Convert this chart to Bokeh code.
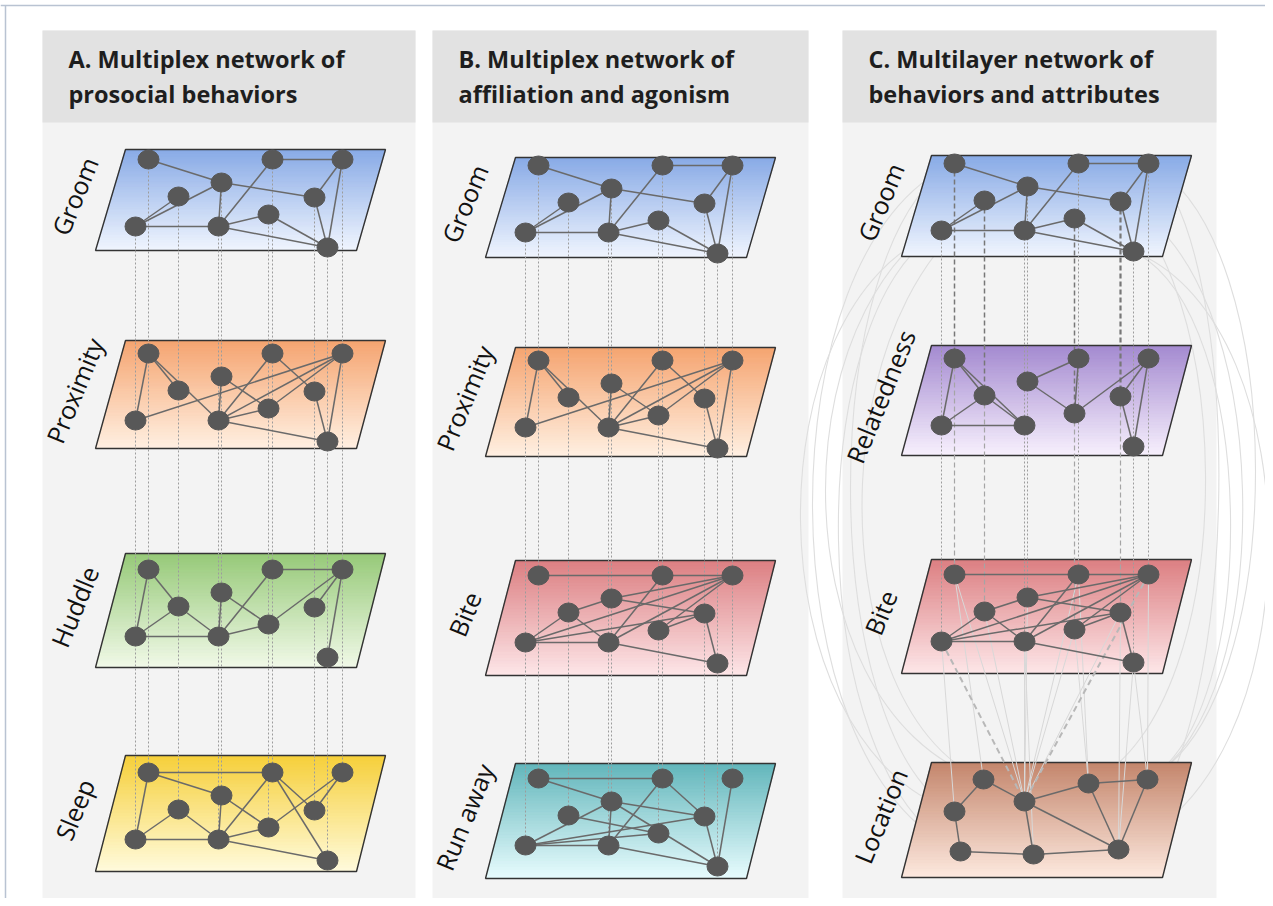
import numpy as np
from bokeh.plotting import figure
from bokeh.models import Range1d
from bokeh.embed import file_html
from bokeh.resources import INLINE
from bokeh.core.properties import value

# ---------------- data ----------------
panel_titles = [["A. Multiplex network of", "prosocial behaviors"],
                ["B. Multiplex network of", "affiliation and agonism"],
                ["C. Multilayer network of", "behaviors and attributes"]]
layer_names = [["Groom", "Proximity", "Huddle", "Sleep"],
               ["Groom", "Proximity", "Bite", "Run away"],
               ["Groom", "Relatedness", "Bite", "Location"]]
panel_left = [42, 432, 842]
panel_right = [415, 808, 1216]
panel_shift = [0, 390, 806]

plane_top = [[149, 340, 553, 755], [157, 347, 560, 763], [155, 345, 559, 762]]
plane_bottom = [[250, 448, 667, 871], [257, 456, 675, 878], [256, 455, 673, 877]]
plane_x = [125, 385, 95, 356]  # top-left, top-right, bottom-left, bottom-right (panel A)
layer_row_y = [[159, 353, 569, 772], [165, 360, 575, 778], [163, 358, 574, None]]

node_x = [148, 272, 342, 221, 178, 314, 135, 218, 268, 327]
node_dy = [0, 0, 0, 23, 37, 38, 67, 67, 55, 88]

edges = {
    "Groom": [(1, 4), (2, 3), (4, 8), (4, 6), (4, 7), (5, 7), (7, 8), (2, 8), (8, 9), (8, 10),
              (9, 10), (3, 6), (6, 10), (3, 10)],
    "Proximity": [(1, 7), (1, 5), (1, 8), (4, 8), (4, 9), (8, 2), (8, 3), (8, 9), (8, 10), (7, 3),
                  (9, 3), (2, 6), (6, 10), (3, 10)],
    "Huddle": [(1, 7), (1, 5), (5, 7), (5, 8), (7, 8), (4, 8), (4, 9), (2, 8), (2, 3), (8, 9),
               (9, 3), (3, 6), (3, 10)],
    "Sleep": [(1, 2), (1, 4), (1, 7), (7, 5), (7, 8), (5, 8), (4, 8), (4, 9), (8, 2), (8, 9),
              (8, 10), (2, 6), (2, 10), (9, 3), (3, 6)],
    "Bite": [(1, 2), (2, 3), (4, 5), (4, 6), (4, 3), (5, 7), (5, 8), (7, 8), (7, 3), (7, 6),
             (8, 2), (8, 3), (8, 10), (9, 3), (9, 6), (6, 10)],
    "Run away": [(1, 2), (1, 4), (2, 6), (2, 8), (4, 6), (4, 8), (4, 7), (4, 10), (5, 9), (7, 8),
                 (7, 6), (7, 9), (8, 10), (3, 10), (6, 10)],
    "Relatedness": [(1, 7), (1, 5), (1, 8), (5, 7), (5, 8), (7, 8), (4, 2), (4, 9), (2, 9),
                    (9, 3), (3, 6), (6, 10), (3, 10)],
}

loc_x = [983, 1024, 1088, 1147, 954, 960, 1033, 1118]
loc_y = [779, 801, 783, 779, 811, 851, 854, 849]
loc_edges = [(1, 2), (1, 5), (5, 6), (6, 7), (7, 8), (2, 7), (2, 3), (3, 4), (2, 8), (3, 8), (4, 8)]

c_dashed_nodes = [1, 5, 9, 6]
bite_loc_dashed = [(7, 2), (3, 2)]
bite_loc_faint = [(1, 2), (5, 2), (8, 2), (9, 2), (4, 2), (2, 3), (6, 8), (10, 8), (10, 4),
                  (3, 4), (7, 5), (1, 1), (8, 7), (9, 3), (2, 2), (6, 2)]
arcs_left = [(7, 5, 800), (1, 6, 812), (5, 1, 825), (7, 6, 838), (1, 5, 850), (4, 1, 862)]
arcs_right = [(10, 8, 1268), (3, 4, 1255), (6, 4, 1242), (10, 4, 1230), (3, 8, 1218), (2, 3, 1205)]

layer_colors = {
    "Groom": ("#88aae6", "#f0f5fe"),
    "Proximity": ("#f5a470", "#fff0e2"),
    "Huddle": ("#96c978", "#f1f9e8"),
    "Sleep": ("#f6cf3a", "#fffbdc"),
    "Bite": ("#dc7f82", "#fde6e8"),
    "Run away": ("#62b6bb", "#e8fcfe"),
    "Relatedness": ("#a48ad0", "#f7f0fd"),
    "Location": ("#c4866c", "#fde9df"),
}

# ---------------- helpers ----------------
def hex2rgb(h):
    h = h.lstrip("#")
    return np.array([int(h[i:i + 2], 16) for i in (0, 2, 4)], dtype=float)


def mix(c0, c1, t):
    a, b = hex2rgb(c0), hex2rgb(c1)
    c = a + (b - a) * t
    return "#%02x%02x%02x" % tuple(int(round(v)) for v in c)


W, H = 1265, 898
p = figure(width=W, height=H, x_range=Range1d(0, W), y_range=Range1d(H, 0),
           output_backend="svg", toolbar_location=None, min_border=0,
           x_axis_location=None, y_axis_location=None)
p.grid.visible = False
p.outline_line_color = None
p.background_fill_color = "white"
p.border_fill_color = "white"

# outer frame lines
p.segment(x0=[0, 5], y0=[5, 5], x1=[W, 5], y1=[5, H], line_color="#b9c3d2", line_width=1.5)

# panel backgrounds and headers
p.quad(left=panel_left, right=panel_right, top=[30] * 3, bottom=[902] * 3,
       fill_color="#f3f3f3", line_color=None)
p.quad(left=panel_left, right=panel_right, top=[30] * 3, bottom=[122] * 3,
       fill_color="#e2e2e2", line_color=None)
for i in range(3):
    tx = panel_left[i] + 26
    p.text(x=[tx, tx], y=[58, 93], text=panel_titles[i], text_font=value("Open Sans"),
           text_font_style="bold", text_font_size="23.5px", text_color="#1e1e1e",
           text_baseline="middle", text_align="left")

# big arcs in panel C (behind planes)
sh = panel_shift[2]
cg = layer_row_y[2][0]
for arcs in (arcs_left, arcs_right):
    x0s, y0s, x1s, y1s, cx0, cy0, cx1, cy1 = [], [], [], [], [], [], [], []
    for (g, l, reach) in arcs:
        xa, ya = node_x[g - 1] + sh, cg + node_dy[g - 1]
        xb, yb = loc_x[l - 1], loc_y[l - 1]
        cx = (reach - 0.125 * (xa + xb)) / 0.75
        x0s.append(xa); y0s.append(ya); x1s.append(xb); y1s.append(yb)
        cx0.append(cx); cx1.append(cx)
        cy0.append(ya + 0.12 * (yb - ya)); cy1.append(yb - 0.12 * (yb - ya))
    p.bezier(x0=x0s, y0=y0s, x1=x1s, y1=y1s, cx0=cx0, cy0=cy0, cx1=cx1, cy1=cy1,
             line_color="#dedede", line_width=1.1)

# planes
N = 40
for i in range(3):
    s = panel_shift[i]
    xtl, xtr, xbl, xbr = [v + s for v in plane_x]
    for k in range(4):
        name = layer_names[i][k]
        top, bot = plane_top[i][k], plane_bottom[i][k]
        c0, c1 = layer_colors[name]
        xs, ys, cols = [], [], []
        for j in range(N):
            t0, t1 = j / N, min(1.0, (j + 1) / N + 0.01)
            ya, yb = top + (bot - top) * t0, top + (bot - top) * t1
            xla, xlb = xtl + (xbl - xtl) * t0, xtl + (xbl - xtl) * t1
            xra, xrb = xtr + (xbr - xtr) * t0, xtr + (xbr - xtr) * t1
            xs.append([xla, xra, xrb, xlb])
            ys.append([ya, ya, yb, yb])
            cols.append(mix(c0, c1, (j + 0.5) / N))
        p.patches(xs=xs, ys=ys, fill_color=cols, line_color=cols, line_width=0.6)
        p.patch(x=[xtl, xtr, xbr, xbl], y=[top, top, bot, bot], fill_color=None,
                line_color="#333333", line_width=1.4)

# inter-layer lines
for i in range(3):
    s = panel_shift[i]
    for k in range(3):
        if layer_row_y[i][k + 1] is None:
            continue
        for n in range(10):
            x = node_x[n] + s
            y0 = layer_row_y[i][k] + node_dy[n]
            y1 = layer_row_y[i][k + 1] + node_dy[n]
            if i == 2 and (n + 1) in c_dashed_nodes:
                if k == 0:
                    wdt = 2.2 if (n + 1) == 6 else 1.5
                    col = "#777777"
                else:
                    wdt, col = 1.2, "#a5a5a5"
                p.segment(x0=[x], y0=[y0], x1=[x], y1=[y1], line_color=col,
                          line_width=wdt, line_dash="5 3")
            else:
                p.segment(x0=[x], y0=[y0], x1=[x], y1=[y1], line_color="#9c9c9c",
                          line_width=1, line_dash="2 2")

# bite -> location links in panel C
cb = layer_row_y[2][2]
for (b, l) in bite_loc_faint:
    p.segment(x0=[node_x[b - 1] + sh], y0=[cb + node_dy[b - 1]], x1=[loc_x[l - 1]],
              y1=[loc_y[l - 1]], line_color="#d8d8d8", line_width=1)
for (b, l) in bite_loc_dashed:
    p.segment(x0=[node_x[b - 1] + sh], y0=[cb + node_dy[b - 1]], x1=[loc_x[l - 1]],
              y1=[loc_y[l - 1]], line_color="#b8b8b8", line_width=2, line_dash="6 4")

# edges and nodes
for i in range(3):
    s = panel_shift[i]
    for k in range(4):
        name = layer_names[i][k]
        if name == "Location":
            ex0 = [loc_x[a - 1] for a, b in loc_edges]
            ey0 = [loc_y[a - 1] for a, b in loc_edges]
            ex1 = [loc_x[b - 1] for a, b in loc_edges]
            ey1 = [loc_y[b - 1] for a, b in loc_edges]
            p.segment(x0=ex0, y0=ey0, x1=ex1, y1=ey1, line_color="#6a6a6a", line_width=1.5)
            p.ellipse(x=loc_x, y=loc_y, width=21, height=19, fill_color="#585858",
                      line_color="#585858")
            continue
        y = layer_row_y[i][k]
        nx = [v + s for v in node_x]
        ny = [y + d for d in node_dy]
        el = edges[name]
        p.segment(x0=[nx[a - 1] for a, b in el], y0=[ny[a - 1] for a, b in el],
                  x1=[nx[b - 1] for a, b in el], y1=[ny[b - 1] for a, b in el],
                  line_color="#6a6a6a", line_width=1.5)
        p.ellipse(x=nx, y=ny, width=21, height=19, fill_color="#585858", line_color="#585858")

# layer labels
for i in range(3):
    s = panel_shift[i]
    xtl, xtr, xbl, xbr = [v + s for v in plane_x]
    lx, ly, lt = [], [], []
    for k in range(4):
        lx.append((xtl + xbl) / 2 - 36)
        ly.append((plane_top[i][k] + plane_bottom[i][k]) / 2 - 4)
        lt.append(layer_names[i][k])
    p.text(x=lx, y=ly, text=lt, angle=1.18, text_font=value("Open Sans"),
           text_font_size="25px", text_color="#111111", text_align="center",
           text_baseline="middle")

open("out.html", "w").write(file_html(p, INLINE))
